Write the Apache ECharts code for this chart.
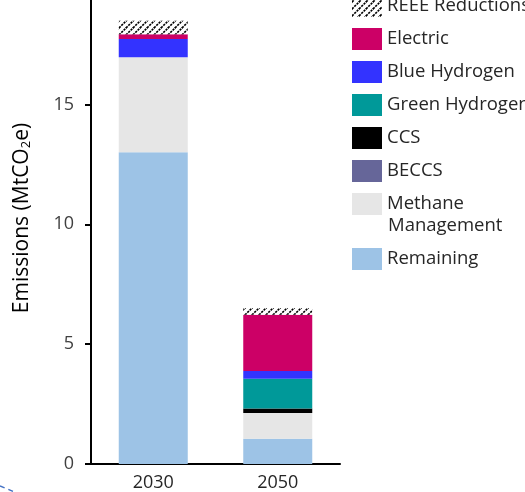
<!DOCTYPE html>
<html><head><meta charset="utf-8">
<script src="https://cdn.jsdelivr.net/npm/echarts@6/dist/echarts.min.js"></script>
<style>html,body{margin:0;padding:0;background:#fff}#c{width:525px;height:492px}</style>
</head><body><div id="c"></div>
<script>
const categories = ['2030', '2050'];
const remaining = [13.0, 1.05];
const methane = [3.97, 1.08];
const beccs = [0, 0];
const ccs = [0, 0.18];
const greenH2 = [0, 1.25];
const blueH2 = [0.76, 0.32];
const electric = [0.2, 2.35];
const reee = [0.56, 0.28];
const yTicks = [0, 5, 10, 15];

const FONT = 'Open Sans';

// hatch pattern
const P = 7;
const pc = document.createElement('canvas');
pc.width = P; pc.height = P;
const g = pc.getContext('2d');
g.fillStyle = '#fff'; g.fillRect(0, 0, P, P);
g.strokeStyle = '#000'; g.lineWidth = 1.6;
g.setLineDash([2.3, 1]);
g.beginPath(); g.moveTo(0, P); g.lineTo(P, 0); g.stroke();
g.setLineDash([]);
g.beginPath(); g.moveTo(-1, 1); g.lineTo(1, -1); g.stroke();
g.beginPath(); g.moveTo(P - 1, P + 1); g.lineTo(P + 1, P - 1); g.stroke();
const hatch = { image: pc, repeat: 'repeat' };

const seriesDefs = [
  { name: 'Remaining', data: remaining, color: '#9DC3E6' },
  { name: 'Methane Management', data: methane, color: '#E6E6E6' },
  { name: 'BECCS', data: beccs, color: '#666699' },
  { name: 'CCS', data: ccs, color: '#000000' },
  { name: 'Green Hydrogen', data: greenH2, color: '#009999' },
  { name: 'Blue Hydrogen', data: blueH2, color: '#3333FF' },
  { name: 'Electric', data: electric, color: '#CC0066' },
  { name: 'REEE Reductions', data: reee, color: hatch }
];

const chart = echarts.init(document.getElementById('c'), null, { renderer: 'canvas' });
chart.setOption({
  animation: false,
  grid: { left: 91, right: 185, top: 0, bottom: 27.5, containLabel: false },
  xAxis: {
    type: 'category', data: categories,
    axisLine: { lineStyle: { color: '#000', width: 2 } },
    axisTick: { show: false },
    axisLabel: { color: '#262626', fontSize: 18, fontFamily: FONT, margin: 10 }
  },
  yAxis: {
    type: 'value', min: 0, max: 19.354,
    splitLine: { show: false },
    axisLine: { show: true, lineStyle: { color: '#000', width: 2 } },
    axisTick: { show: true, length: 6, customValues: yTicks, lineStyle: { color: '#000', width: 2 } },
    axisLabel: { color: '#404040', fontSize: 18, fontFamily: FONT, margin: 17, customValues: yTicks },
    name: '{a|Emissions (MtCO}{s|2}{a|e)}',
    nameLocation: 'middle', nameGap: 58,
    nameTextStyle: {
      padding: [0, 0, 0, 28],
      rich: {
        a: { fontSize: 21, fontFamily: FONT, color: '#000' },
        s: { fontSize: 13, fontFamily: FONT, color: '#000', verticalAlign: 'bottom', padding: [9, 0, 0, 0] }
      }
    }
  },
  legend: [
    {
      orient: 'vertical', left: 347, top: -10, icon: 'rect',
      itemWidth: 30, itemHeight: 22, itemGap: 11,
      data: ['REEE Reductions', 'Electric', 'Blue Hydrogen', 'Green Hydrogen', 'CCS', 'BECCS', 'Methane Management'],
      formatter: n => n === 'Methane Management' ? 'Methane' : n,
      textStyle: { fontSize: 18.5, fontFamily: FONT, color: '#262626', lineHeight: 22 },
      selectedMode: false
    },
    {
      orient: 'vertical', left: 347, top: 243, icon: 'rect',
      itemWidth: 30, itemHeight: 22,
      data: ['Remaining'],
      textStyle: { fontSize: 18.5, fontFamily: FONT, color: '#262626', lineHeight: 22 },
      selectedMode: false
    }
  ],
  graphic: [
    { type: 'text', left: 388, top: 216, style: { text: 'Management', fontSize: 18.5, fontFamily: FONT, fill: '#262626' } },
    { type: 'line', shape: { x1: 0, y1: 486, x2: 17, y2: 493 }, style: { stroke: '#4472C4', lineWidth: 1.5, lineDash: [5, 4] } }
  ],
  series: seriesDefs.map(s => ({
    name: s.name, type: 'bar', stack: 'total', data: s.data, barWidth: 69,
    itemStyle: { color: s.color }
  }))
});
</script>
</body></html>
